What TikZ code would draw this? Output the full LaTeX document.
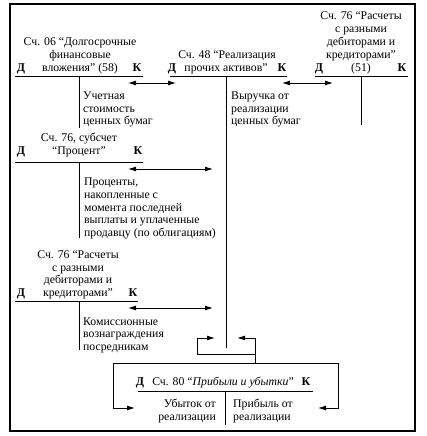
\documentclass[tikz,border=0pt]{standalone}
\usepackage{fontspec}
\setmainfont{Liberation Serif}
\usetikzlibrary{arrows.meta}
\begin{document}
\begin{tikzpicture}[x=1bp,y=-1bp,
  txt/.style={inner sep=0pt, anchor=base, font=\fontsize{11.8}{13}\selectfont},
  lt/.style={txt, anchor=base west},
  rt/.style={txt, anchor=base east},
  dk/.style={txt, font=\fontsize{12}{13}\selectfont\bfseries},
  rulel/.style={line width=0.9bp},
  arr/.style={line width=0.9bp, -{Latex[length=8bp,width=5bp]}},
  darr/.style={line width=0.9bp, {Latex[length=8bp,width=5bp]}-{Latex[length=8bp,width=5bp]}}]
\useasboundingbox (0,0) rectangle (426,436);
\draw[line width=1.1bp] (10,4) rectangle (415,431);

% ---- Account 06
\foreach \s [count=\i] in {{Сч. 06 “Долгосрочные},{финансовые},{вложения” (58)}}
  \node[txt] (h06-\i) at (80,{46+13*(\i-1)}) {\s};
\node[dk] (d06) at (21,72) {Д};
\node[dk] (k06) at (137,72) {К};
\coordinate (r06a) at (15,76); \coordinate (r06b) at (143,76);
\coordinate (v06a) at (79,76); \coordinate (v06b) at (79,128);
\draw[rulel] (r06a) -- (r06b);
\draw[rulel] (v06a) -- (v06b);
\foreach \s [count=\i] in {{Учетная},{стоимость},{ценных бумаг}}
  \node[lt] (b06-\i) at (83,{100+12.5*(\i-1)}) {\s};

% ---- Account 48
\node[txt] (h48-1) at (227,59) {Сч. 48 “Реализация};
\node[txt] (h48-2) at (226,72) {прочих активов”};
\node[dk] (d48) at (172,72) {Д};
\node[dk] (k48) at (282,72) {К};
\coordinate (r48a) at (170,76); \coordinate (r48b) at (287,76);
\coordinate (v48a) at (226,76); \coordinate (v48b) at (226,348);
\draw[rulel] (r48a) -- (r48b);
\draw[rulel] (v48a) -- (v48b);
\foreach \s [count=\i] in {{Выручка от},{реализации},{ценных бумаг}}
  \node[lt] (b48-\i) at (231,{100+12.5*(\i-1)}) {\s};

% ---- Account 76 (51)
\foreach \s [count=\i] in {{Сч. 76 “Расчеты},{с разными},{дебиторами и},{кредиторами”},{(51)}}
  \node[txt] (h51-\i) at (361,{20+13*(\i-1)}) {\s};
\node[dk] (d51) at (319,72) {Д};
\node[dk] (k51) at (402,72) {К};
\coordinate (r51a) at (315,76); \coordinate (r51b) at (408,76);
\coordinate (v51a) at (361,76); \coordinate (v51b) at (361,125);
\draw[rulel] (r51a) -- (r51b);
\draw[rulel] (v51a) -- (v51b);

% double arrows top
\coordinate (a1a) at (128,83); \coordinate (a1b) at (176,83);
\coordinate (a2a) at (282,83); \coordinate (a2b) at (333,83);
\draw[darr] (a1a) -- (a1b);
\draw[darr] (a2a) -- (a2b);

% ---- Account 76 Процент
\node[txt] (hp-1) at (79,141.5) {Сч. 76, субсчет};
\node[txt] (hp-2) at (79,155) {“Процент”};
\node[dk] (dp) at (21,155) {Д};
\node[dk] (kp) at (138,155) {К};
\coordinate (rpa) at (15,162); \coordinate (rpb) at (143,162);
\coordinate (vpa) at (79,162); \coordinate (vpb) at (79,238);
\draw[rulel] (rpa) -- (rpb);
\draw[rulel] (vpa) -- (vpb);
\coordinate (a3a) at (128,169); \coordinate (a3b) at (213,169);
\draw[darr] (a3a) -- (a3b);
\foreach \s [count=\i] in {{Проценты,},{накопленные с},{момента последней},{выплаты и уплаченные},{продавцу (по облигациям)}}
  \node[lt] (bp-\i) at (84,{185.5+12.8*(\i-1)}) {\s};

% ---- Account 76 Расчеты
\foreach \s [count=\i] in {{Сч. 76 “Расчеты},{с разными},{дебиторами и},{кредиторами”}}
  \node[txt] (hr-\i) at (78,{258.5+12.5*(\i-1)}) {\s};
\node[dk] (dr) at (21,296) {Д};
\node[dk] (kr) at (133,296) {К};
\coordinate (rra) at (15,301); \coordinate (rrb) at (138,301);
\coordinate (vra) at (79,301); \coordinate (vrb) at (79,350);
\draw[rulel] (rra) -- (rrb);
\draw[rulel] (vra) -- (vrb);
\coordinate (a4a) at (128,308); \coordinate (a4b) at (213,308);
\draw[darr] (a4a) -- (a4b);
\foreach \s [count=\i] in {{Комиссионные},{вознаграждения},{посредникам}}
  \node[lt] (br-\i) at (83,{325+12.8*(\i-1)}) {\s};

% ---- bent arrows
\coordinate (j0) at (255,363);
\coordinate (j1) at (255,354);
\coordinate (j2) at (197,354);
\coordinate (j3) at (197,338);
\coordinate (t1) at (215,338);
\coordinate (j4) at (255,338);
\coordinate (t2) at (237,338);
\coordinate (l1) at (113,363);
\coordinate (l2) at (113,408);
\coordinate (t3) at (135,408);
\coordinate (q1) at (338,363);
\coordinate (q2) at (338,408);
\coordinate (t4) at (318,408);
\draw[arr] (j1) -- (j2) -- (j3) -- (t1);
\draw[arr] (j0) -- (j4) -- (t2);
\draw[arr] (j0) -- (l1) -- (l2) -- (t3);
\draw[arr] (j0) -- (q1) -- (q2) -- (t4);

% ---- Account 80
\node[dk] (d80) at (140,385) {Д};
\node[txt] (h80) at (223,385) {Сч. 80 “\textit{Прибыли и убытки}”};
\node[dk] (k80) at (306,385) {К};
\coordinate (r80a) at (138,391); \coordinate (r80b) at (313,391);
\coordinate (v80a) at (225,391); \coordinate (v80b) at (225,425);
\draw[rulel] (r80a) -- (r80b);
\draw[rulel] (v80a) -- (v80b);
\node[rt] (u80-1) at (216,407) {Убыток от};
\node[rt] (u80-2) at (216,420.5) {реализации};
\node[lt] (p80-1) at (233,407) {Прибыль от};
\node[lt] (p80-2) at (233,420.5) {реализации};
\end{tikzpicture}
\end{document}
